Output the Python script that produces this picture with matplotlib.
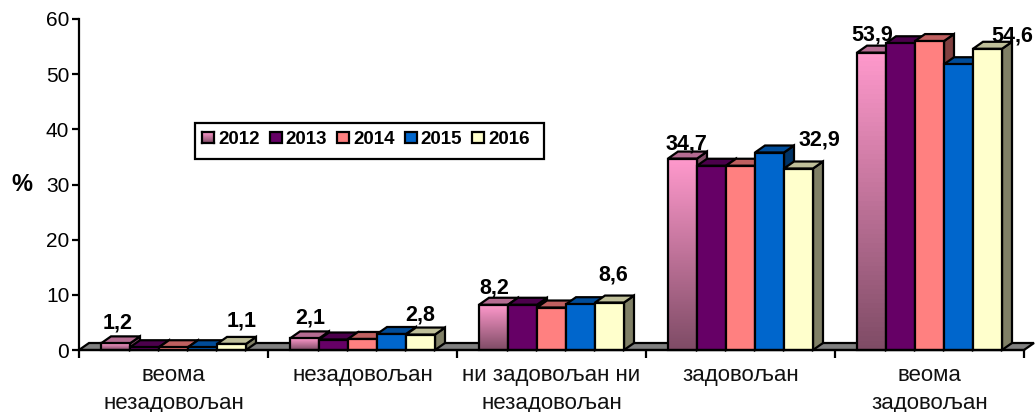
#!/usr/bin/env python3

import numpy as np
import matplotlib
matplotlib.use("Agg")
import matplotlib.pyplot as plt
from matplotlib.patches import Polygon, Rectangle
from matplotlib.transforms import Affine2D
from matplotlib.colors import LinearSegmentedColormap

plt.rcParams['font.family'] = ['Liberation Sans', 'DejaVu Sans']

categories = ["веома\nнезадовољан", "незадовољан", "ни задовољан ни\nнезадовољан", "задовољан", "веома\nзадовољан"]
years = ["2012", "2013", "2014", "2015", "2016"]
v2012 = [1.2, 2.1, 8.2, 34.7, 53.9]
v2013 = [0.5, 1.9, 8.2, 33.4, 55.6]
v2014 = [0.5, 2.0, 7.7, 33.4, 56.0]
v2015 = [0.5, 2.9, 8.3, 35.8, 51.8]
v2016 = [1.1, 2.8, 8.6, 32.9, 54.6]
series = [v2012, v2013, v2014, v2015, v2016]
yticks = [0, 10, 20, 30, 40, 50, 60]

front = ['#FF99CC', '#660066', '#FF8080', '#0066CC', '#FFFFCC']
top = ['#B56C92', '#4C004C', '#BF6060', '#004C99', '#BFBF99']
side = ['#804C66', '#330033', '#804040', '#003366', '#808066']
pink_grad = LinearSegmentedColormap.from_list('pink_grad', ['#FF99CC', '#7F4C66'])
grad = np.linspace(0, 1, 64).reshape(-1, 1)

W, H = 1036, 412
LEFT, RIGHT, TOP, BOTTOM = 79, 1024, 19, 350
LW = 1.6

fig = plt.figure(figsize=(W / 100, H / 100), dpi=100)
ax = fig.add_axes([LEFT / W, 1 - BOTTOM / H, (RIGHT - LEFT) / W, (BOTTOM - TOP) / H])
ax.set_xlim(0, 5)
ax.set_ylim(0, 60)

# image pixel coordinates, used for legend and hand placed labels
px = Affine2D().scale(1 / W, -1 / H).translate(0, 1) + fig.transFigure

# 3d depth in data units
dx = 10 / (RIGHT - LEFT) * 5
dy = 7 / (BOTTOM - TOP) * 60
bw = 29 / (RIGHT - LEFT) * 5
start = 22 / (RIGHT - LEFT) * 5

# floor
ax.add_patch(Polygon([(0, 0), (5, 0), (5 + dx, dy), (dx, dy)], closed=True, fc='#808080', ec='black',
                     lw=LW, clip_on=False, zorder=1))

z = 2
for g in range(len(categories)):
    for s in range(len(series)):
        v = series[s][g]
        x0 = g + start + s * bw
        x1 = x0 + bw
        ax.add_patch(Polygon([(x1, 0), (x1 + dx, dy), (x1 + dx, v + dy), (x1, v)], closed=True,
                             fc=side[s], ec='black', lw=LW, clip_on=False, zorder=z))
        ax.add_patch(Polygon([(x0, v), (x1, v), (x1 + dx, v + dy), (x0 + dx, v + dy)], closed=True,
                             fc=top[s], ec='black', lw=LW, clip_on=False, zorder=z))
        if s == 0:
            ax.imshow(grad, extent=(x0, x1, 0, v), cmap=pink_grad, aspect='auto', origin='upper', zorder=z + 1)
            ax.add_patch(Rectangle((x0, 0), bw, v, fill=False, ec='black', lw=LW, clip_on=False, zorder=z + 2))
        else:
            ax.add_patch(Rectangle((x0, 0), bw, v, fc=front[s], ec='black', lw=LW, clip_on=False, zorder=z + 2))
        z += 3

ax.set_xlim(0, 5)
ax.set_ylim(0, 60)

for sp in ['top', 'right']:
    ax.spines[sp].set_visible(False)
for sp in ['left', 'bottom']:
    ax.spines[sp].set_linewidth(LW)
    ax.spines[sp].set_zorder(z + 1)

ax.set_yticks(yticks)
ax.tick_params(axis='y', labelsize=15, length=5, width=LW, pad=2)
ax.set_xticks(np.arange(6))
ax.set_xticklabels([])
ax.tick_params(axis='x', which='major', length=6, width=LW)
ax.set_xticks(np.arange(5) + 0.5, labels=categories, minor=True)
ax.tick_params(axis='x', which='minor', length=0, pad=11, labelsize=16, labelcolor='#111111')
for t in ax.get_xticklabels(minor=True):
    t.set_linespacing(1.42)

fig.text(22, 185, '%', transform=px, ha='center', va='center', fontsize=17, fontweight='bold')

# value labels, only first and last year are shown
label_text = ["1,2", "1,1", "2,1", "2,8", "8,2", "8,6", "34,7", "32,9", "53,9", "54,6"]
label_x = [118, 242, 310, 420, 494, 613, 686, 819, 872, 1012]
label_y = [323, 321, 318, 315, 288, 275, 144, 140, 35, 36]
for t, lx, ly in zip(label_text, label_x, label_y):
    fig.text(lx, ly, t, transform=px, ha='center', va='center', fontsize=15.5, fontweight='bold', zorder=10)

# legend
fig.add_artist(Rectangle((195, 123), 349, 36, transform=px, fc='white', ec='black', lw=LW, zorder=20))
for i, y in enumerate(years):
    sx = 202 + i * 67.5
    if i == 0:
        lax = fig.add_axes([sx / W, 1 - 143 / H, 12 / W, 11 / H], zorder=30)
        lax.imshow(grad, cmap=pink_grad, aspect='auto')
        lax.set_xticks([])
        lax.set_yticks([])
        for sp in lax.spines.values():
            sp.set_linewidth(LW)
    else:
        fig.add_artist(Rectangle((sx, 132), 12, 11, transform=px, fc=front[i], ec='black', lw=LW, zorder=21))
    fig.text(sx + 16, 139, y, transform=px, ha='left', va='center', fontsize=13.5, fontweight='bold', zorder=22)

fig.savefig('out.png', dpi=100)
